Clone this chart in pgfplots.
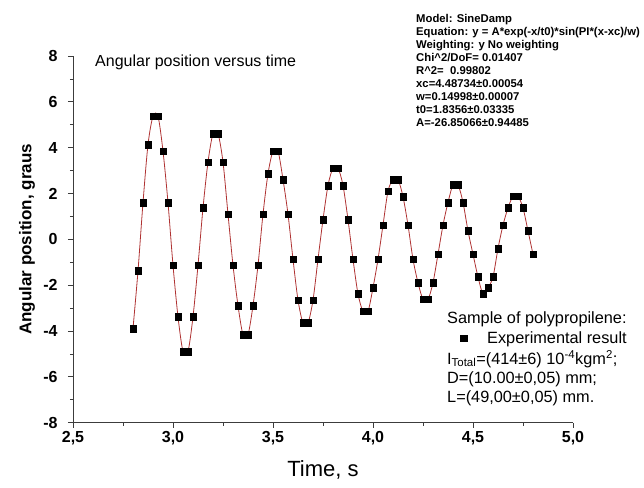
\documentclass[border=0pt]{standalone}
\usepackage{fontspec}
\setmainfont{Liberation Sans}
\usepackage{pgfplots}
\usepackage{pgfplotstable}
\pgfplotsset{compat=1.18}
\definecolor{fitred}{RGB}{175,50,50}
\definecolor{axgray}{RGB}{60,60,60}
\pgfplotsset{onemark legend/.style={legend image code/.code={\draw[##1] plot coordinates {(0bp,0bp)};}}}

% time (s), angular position (graus)
\pgfplotstableread{
t y
2.800 -3.89
2.825 -1.38
2.850 1.60
2.875 4.13
2.900 5.37
2.925 5.37
2.950 3.85
2.975 1.60
3.000 -1.13
3.025 -3.38
3.050 -4.89
3.075 -4.89
3.100 -3.38
3.125 -1.13
3.150 1.37
3.175 3.37
3.200 4.61
3.225 4.61
3.250 3.37
3.275 1.10
3.300 -1.13
3.325 -2.89
3.350 -4.16
3.375 -4.16
3.400 -2.89
3.425 -1.13
3.450 1.10
3.475 2.86
3.500 3.85
3.525 3.85
3.550 2.61
3.575 1.10
3.600 -0.87
3.625 -2.65
3.650 -3.65
3.675 -3.65
3.700 -2.65
3.725 -0.87
3.750 0.86
3.775 2.35
3.800 3.11
3.825 3.11
3.850 2.35
3.875 0.86
3.900 -0.87
3.925 -2.38
3.950 -3.14
3.975 -3.14
4.000 -2.11
4.025 -0.87
4.050 0.62
4.075 2.10
4.100 2.61
4.125 2.61
4.150 1.86
4.175 0.62
4.200 -0.87
4.225 -1.89
4.250 -2.62
4.275 -2.62
4.300 -1.89
4.325 -0.65
4.350 0.62
4.375 1.61
4.400 2.38
4.425 2.38
4.450 1.61
4.475 0.37
4.500 -0.65
4.525 -1.64
4.550 -2.38
4.575 -2.11
4.600 -1.64
4.625 -0.40
4.650 0.62
4.675 1.37
4.700 1.88
4.725 1.88
4.750 1.37
4.775 0.37
4.800 -0.65
}\expdata

\begin{document}
\begin{tikzpicture}
\begin{axis}[
    name=ax,
    scale only axis,
    width=500bp, height=366.7bp,
    xmin=2.5, xmax=5.0,
    ymin=-8, ymax=8,
    axis lines*=left,
    clip=false,
    xtick={2.5,3.0,...,5.0},
    ytick={-8,-6,...,8},
    minor x tick num=1,
    minor y tick num=1,
    tick align=outside,
    major tick length=5bp,
    minor tick length=3bp,
    tick style={axgray, line width=0.8bp},
    axis line style={axgray, line width=0.8bp},
    /pgf/number format/assume math mode=true,
    x tick label style={/pgf/number format/.cd, fixed, fixed zerofill, precision=1, use comma},
    y tick label style={xshift=-7bp},
    ticklabel style={font=\fontsize{16bp}{19bp}\selectfont\bfseries},
    xlabel={Time, s},
    ylabel={Angular position, graus},
    xlabel style={at={(axis description cs:0.5,-0.129)}, anchor=center,
                  font=\fontsize{22bp}{26bp}\selectfont},
    ylabel style={at={(axis description cs:-0.092,0.5)}, anchor=center,
                  font=\fontsize{17bp}{20bp}\selectfont\bfseries},
    legend style={draw=none, fill=none, inner sep=0pt,
                  at={(axis cs:4.437,-4.31)}, anchor=west,
                  font=\fontsize{16.3bp}{19bp}\selectfont,
                  /tikz/every odd column/.append style={column sep=18bp}},
]
\addplot[only marks, mark=square*, mark size=3.3bp,
         mark options={fill=black, draw=black}, onemark legend]
    table[x=t, y=y] {\expdata};
\addlegendentry{Experimental result}
\addplot[fitred, line width=0.8bp, smooth, forget plot] table[x=t, y=y] {\expdata};

\node[anchor=west, inner sep=0pt, font=\fontsize{16bp}{19bp}\selectfont]
    at (axis cs:2.61,7.74) {Angular position versus time};
\end{axis}

\node[anchor=north west, inner sep=0pt, align=left,
      font=\fontsize{11.3bp}{13bp}\selectfont\bfseries]
    at ([shift={(343bp,42bp)}]ax.north west)
    {Model: SineDamp\\
     Equation: y = A*exp(-x/t0)*sin(PI*(x-xc)/w)\\
     Weighting: y No weighting\\
     Chi\textasciicircum 2/DoF= 0.01407\\
     R\textasciicircum 2=\ \ 0.99802\\
     xc=4.48734±0.00054\\
     w=0.14998±0.00007\\
     t0=1.8356±0.03335\\
     A=-26.85066±0.94485};

\begin{scope}[every node/.style={anchor=west, inner sep=0pt,
      font=\fontsize{16.3bp}{19bp}\selectfont}]
\node at ([shift={(374bp,-263bp)}]ax.north west) {Sample of polypropilene:};
\node at ([shift={(374bp,-303bp)}]ax.north west)
    {I\textsubscript{Total}=(414±6) 10\textsuperscript{-4}kgm\textsuperscript{2};};
\node at ([shift={(374bp,-323bp)}]ax.north west) {D=(10.00±0,05) mm;};
\node at ([shift={(374bp,-342bp)}]ax.north west) {L=(49,00±0,05) mm.};
\end{scope}

\pgfresetboundingbox
\path ([shift={(-73bp,-65.3bp)}]ax.south west) rectangle ([shift={(71bp,56bp)}]ax.north east);
\end{tikzpicture}
\end{document}
